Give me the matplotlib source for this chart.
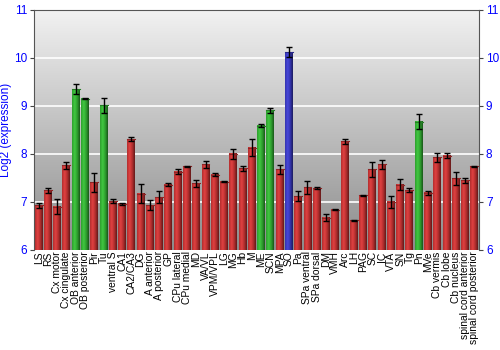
import numpy as np
import matplotlib
matplotlib.use("Agg")
import matplotlib.pyplot as plt
from matplotlib.colors import LinearSegmentedColormap

plt.rcParams['font.family'] = ['Liberation Sans', 'DejaVu Sans']

regions = ['LS', 'RS', 'Cx motor', 'Cx cingulate', 'OB anterior', 'OB posterior', 'Pir', 'Tu',
           'ventral S', 'CA1', 'CA2/CA3', 'DG', 'A anterior', 'A posterior', 'GP', 'CPu lateral',
           'CPu medial', 'MD', 'VA/VL', 'VPM/VPL', 'LG', 'MG', 'Hb', 'M', 'ME', 'SCN', 'MPA', 'SO',
           'Pa', 'SPa ventral', 'SPa dorsal', 'DM', 'VMH', 'Arc', 'LH', 'PAG', 'SC', 'IC', 'VTA',
           'SN', 'Tg', 'Pn', 'MVe', 'Cb vermis', 'Cb lobe', 'Cb nucleus', 'spinal cord anterior',
           'spinal cord posterior']
values = [6.93, 7.24, 6.90, 7.76, 9.35, 9.15, 7.41, 9.01,
          7.01, 6.96, 8.31, 7.17, 6.93, 7.10, 7.36, 7.63,
          7.74, 7.39, 7.78, 7.57, 7.42, 8.00, 7.70, 8.13, 8.59, 8.91, 7.68, 10.12,
          7.12, 7.30, 7.29, 6.67, 6.84, 8.26, 6.62, 7.14, 7.68, 7.78, 7.00,
          7.36, 7.24, 8.67, 7.19, 7.93, 7.96, 7.49, 7.45,
          7.74]
errors = [0.05, 0.05, 0.15, 0.08, 0.10, 0.01, 0.20, 0.15,
          0.04, 0.02, 0.04, 0.20, 0.10, 0.13, 0.03, 0.05,
          0.01, 0.07, 0.08, 0.04, 0.01, 0.10, 0.05, 0.18, 0.03, 0.05, 0.09, 0.10,
          0.11, 0.13, 0.02, 0.07, 0.01, 0.05, 0.01, 0.01, 0.16, 0.10, 0.13,
          0.12, 0.04, 0.16, 0.04, 0.09, 0.05, 0.14, 0.05,
          0.01]
groups = ['r'] * len(regions)
for k in [4, 5, 7, 24, 25, 41]:
    groups[k] = 'g'
groups[27] = 'b'

base = {'r': (0.70, 0.18, 0.18), 'g': (0.18, 0.62, 0.18), 'b': (0.20, 0.20, 0.68)}

def shade(c):
    c = np.array(c)
    light = np.clip(c * 1.2 + 0.04, 0, 1)
    dark = c * 0.55
    return LinearSegmentedColormap.from_list('s', [c, light, c, dark])

fig = plt.figure(figsize=(5, 3.5), dpi=100)
ax = fig.add_axes([0.068, 0.286, 0.89, 0.686])

ymin, ymax = 6, 11
x = np.arange(len(regions))

# background gradient
bg = LinearSegmentedColormap.from_list('bg', ['#f2f2f2', '#8c8c8c'])
ax.imshow(np.linspace(0, 1, 256).reshape(-1, 1), cmap=bg, aspect='auto', origin='upper',
          extent=(-0.5, len(regions) - 0.5, ymin, ymax), zorder=0)
for yv in [7, 8, 9, 10]:
    ax.axhline(yv, color='white', lw=1.2, zorder=1)

w = 0.86
grad = np.linspace(0, 1, 64).reshape(1, -1)
for i, (v, e, g) in enumerate(zip(values, errors, groups)):
    ax.imshow(grad, cmap=shade(base[g]), aspect='auto',
              extent=(i - w / 2, i + w / 2, ymin, v), zorder=2)
    ax.plot([i - w / 2, i + w / 2], [v, v], color=np.array(base[g]) * 0.8, lw=0.8, zorder=3)
ax.errorbar(x, values, yerr=errors, fmt='none', ecolor='black', elinewidth=1,
            capsize=2, capthick=1, zorder=4)

ax.set_xlim(-0.5, len(regions) - 0.5)
ax.set_ylim(ymin, ymax)
ax.set_xticks(x)
ax.set_xticklabels(regions, rotation=90, fontsize=7.4)
ax.tick_params(axis='x', length=0, pad=1)
ax.set_yticks([6, 7, 8, 9, 10, 11])
ax.tick_params(axis='y', colors='#0000ff', labelsize=8.5, length=3, pad=2,
               right=True, labelright=True)
ax.tick_params(axis='y', which='both', color='#444444')
ax.set_ylabel('Log2 (expression)', color='#0000ff', fontsize=8.5, labelpad=1)
for s in ax.spines.values():
    s.set_color('#555555')
    s.set_linewidth(0.8)
ax.spines['bottom'].set_visible(False)

fig.savefig('out.png', dpi=100)
